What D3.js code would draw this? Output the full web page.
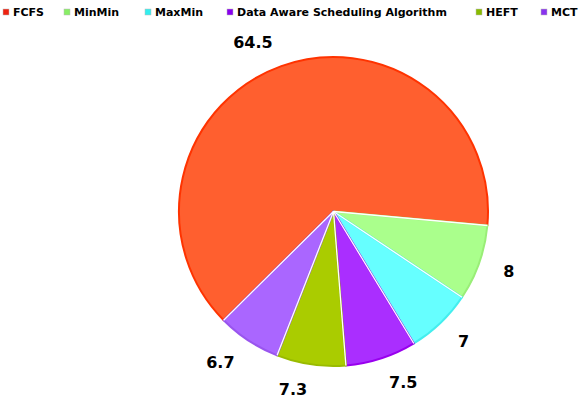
<!DOCTYPE html>
<html>
<head>
<meta charset="utf-8">
<script src="https://cdn.jsdelivr.net/npm/d3@7"></script>
<style>
  body { margin: 0; background: #fff; }
  text { font-family: "DejaVu Sans", Verdana, sans-serif; font-weight: bold; }
</style>
</head>
<body>
<svg id="chart" width="580" height="401"></svg>
<script>
// data
const categories = ['FCFS', 'MinMin', 'MaxMin', 'Data Aware Scheduling Algorithm', 'HEFT', 'MCT'];
const values = [64.5, 8, 7, 7.5, 7.3, 6.7];
const labels = ['64.5', '8', '7', '7.5', '7.3', '6.7'];

const sliceFill = ['#ff5f2f', '#aaff8c', '#66ffff', '#aa2eff', '#aacc00', '#aa66ff'];
const sliceEdge = ['#ff3300', '#99ee77', '#44eeee', '#9900ee', '#99bb00', '#9955ee'];
const legendFill = ['#ee2211', '#88ee66', '#33eeee', '#8800ee', '#88bb00', '#8833ee'];

const svg = d3.select('#chart');
const cx = 333.5, cy = 211.5, radius = 154.5, labelRadius = 180;

const rows = categories.map((c, i) => ({ name: c, value: values[i], label: labels[i], i }));

// pie starts at the lower-left (FCFS) and runs clockwise
const start = 225.3 * Math.PI / 180;
const pie = d3.pie()
  .sort(null)
  .value(d => d.value)
  .startAngle(start)
  .endAngle(start + 2 * Math.PI);

const arc = d3.arc().innerRadius(0).outerRadius(radius);
const labelArc = d3.arc().innerRadius(labelRadius).outerRadius(labelRadius);

const g = svg.append('g').attr('transform', `translate(${cx},${cy})`);
const arcs = pie(rows);

g.selectAll('.slice')
  .data(arcs)
  .enter()
  .append('path')
  .attr('class', 'slice')
  .attr('d', arc)
  .attr('fill', d => sliceFill[d.data.i])
  .attr('stroke', d => sliceEdge[d.data.i])
  .attr('stroke-width', 2)
  .attr('stroke-linejoin', 'round');

// white separators between slices
g.selectAll('.sep')
  .data(arcs)
  .enter()
  .append('line')
  .attr('class', 'sep')
  .attr('x1', 0).attr('y1', 0)
  .attr('x2', d => radius * Math.sin(d.startAngle))
  .attr('y2', d => -radius * Math.cos(d.startAngle))
  .attr('stroke', '#fff')
  .attr('stroke-width', 1.3);

// value labels: anchored away from the pie on either side
g.selectAll('.value-label')
  .data(arcs)
  .enter()
  .append('text')
  .attr('class', 'value-label')
  .attr('transform', d => `translate(${labelArc.centroid(d)})`)
  .attr('text-anchor', d => labelArc.centroid(d)[0] < 0 ? 'end' : 'start')
  .attr('dy', '0.36em')
  .attr('font-size', 16)
  .attr('fill', '#000')
  .text(d => d.data.label);

// legend
const legendX = [3, 64, 145, 227, 476, 541];
const legend = svg.selectAll('.legend-item')
  .data(rows)
  .enter()
  .append('g')
  .attr('class', 'legend-item')
  .attr('transform', d => `translate(${legendX[d.i]},9)`);

legend.append('rect')
  .attr('width', 6).attr('height', 6)
  .attr('fill', d => legendFill[d.i])
  .attr('stroke', '#bbb')
  .attr('stroke-width', 0.5);

legend.append('text')
  .attr('x', 10)
  .attr('y', 7)
  .attr('font-size', 11)
  .attr('fill', '#000')
  .text(d => d.name);
</script>
</body>
</html>
